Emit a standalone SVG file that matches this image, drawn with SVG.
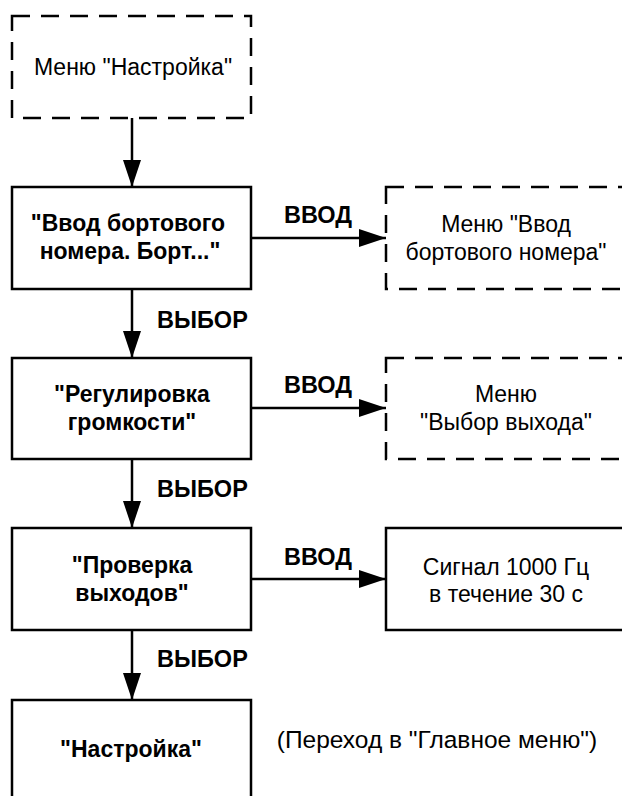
<svg xmlns="http://www.w3.org/2000/svg" width="622" height="796" viewBox="0 0 622 796">
<defs>
<marker id="ah" markerUnits="userSpaceOnUse" markerWidth="27" markerHeight="18" refX="27" refY="9" orient="auto">
<path d="M0,0 L27,9 L0,18 Z" fill="#000"/>
</marker>
<style>
.box{fill:#fff;stroke:#000;stroke-width:2.5}
.dash{fill:#fff;stroke:#000;stroke-width:2.5;stroke-dasharray:18 11}
.t{font-family:"Liberation Sans",Arial,sans-serif;font-size:23px;fill:#000;text-anchor:middle}
.b{font-weight:bold}
.lbl{font-family:"Liberation Sans",Arial,sans-serif;font-size:23.5px;font-weight:bold;fill:#000}
.c{stroke:#000;stroke-width:2.5;fill:none;marker-end:url(#ah)}
</style>
</defs>
<rect width="622" height="796" fill="#fff"/>
<g id="connectors">
<line class="c" x1="132" y1="118" x2="132" y2="187"/>
<line class="c" x1="132" y1="289" x2="132" y2="358"/>
<line class="c" x1="132" y1="459" x2="132" y2="528"/>
<line class="c" x1="132" y1="630" x2="132" y2="700"/>
<line class="c" x1="251" y1="238" x2="386" y2="238"/>
<line class="c" x1="251" y1="408" x2="386" y2="408"/>
<line class="c" x1="251" y1="579" x2="386" y2="579"/>
<text class="lbl" x="284" y="223">ВВОД</text>
<text class="lbl" x="284" y="393">ВВОД</text>
<text class="lbl" x="284" y="565">ВВОД</text>
<text class="lbl" x="157" y="328">ВЫБОР</text>
<text class="lbl" x="157" y="497">ВЫБОР</text>
<text class="lbl" x="157" y="667">ВЫБОР</text>
</g>
<g id="menu-settings">
<rect class="dash" x="12" y="16" width="239" height="102"/>
<text class="t" x="133" y="75">Меню "Настройка"</text>
</g>
<g id="board-number">
<rect class="box" x="12" y="187" width="239" height="102"/>
<text class="t b" x="128" y="231">"Ввод бортового</text>
<text class="t b" x="130" y="259">номера. Борт..."</text>
</g>
<g id="menu-board-number">
<rect class="dash" x="386" y="187" width="240" height="102"/>
<text class="t" x="506" y="232">Меню "Ввод</text>
<text class="t" x="506" y="260">бортового номера"</text>
</g>
<g id="volume">
<rect class="box" x="12" y="358" width="239" height="101"/>
<text class="t b" x="132" y="402">"Регулировка</text>
<text class="t b" x="132" y="430">громкости"</text>
</g>
<g id="menu-output">
<rect class="dash" x="386" y="358" width="240" height="101"/>
<text class="t" x="506" y="402">Меню</text>
<text class="t" x="506" y="430">"Выбор выхода"</text>
</g>
<g id="outputs-check">
<rect class="box" x="12" y="528" width="239" height="102"/>
<text class="t b" x="132" y="573">"Проверка</text>
<text class="t b" x="132" y="601">выходов"</text>
</g>
<g id="signal">
<rect class="box" x="386" y="528" width="240" height="102"/>
<text class="t" x="506" y="575">Сигнал 1000 Гц</text>
<text class="t" x="506" y="602">в течение 30 с</text>
</g>
<g id="settings">
<rect class="box" x="12" y="700" width="239" height="102"/>
<text class="t b" x="131" y="757">"Настройка"</text>
</g>
<text class="t" x="437" y="748" style="font-size:24.5px">(Переход в "Главное меню")</text>
</svg>
